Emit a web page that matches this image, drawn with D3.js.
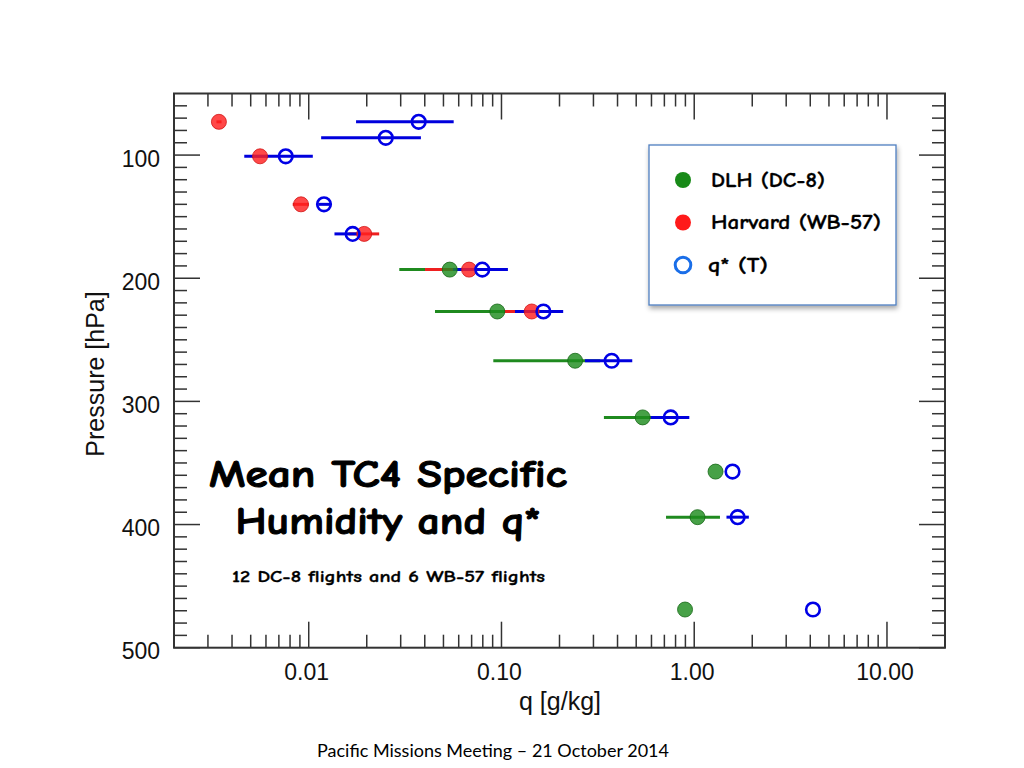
<!DOCTYPE html>
<html><head><meta charset="utf-8">
<script src="https://cdn.jsdelivr.net/npm/d3@7"></script>
<style>
html,body{margin:0;padding:0;background:#fff;}
svg{display:block;}
</style></head>
<body>
<svg id="chart" width="1024" height="768"></svg>
<script>
// ---- data ----
const dlhP  = [193, 227, 267, 313, 357, 394, 469];
const dlhQ  = [0.0539, 0.0951, 0.241, 0.540, 1.29, 1.04, 0.896];
const dlhLo = [0.0295, 0.0452, 0.0907, 0.340, 1.29, 0.714, 0.896];
const dlhHi = [0.0982, 0.158, 0.325, 0.665, 1.29, 1.36, 0.896];

const harvP  = [73, 101, 140, 164, 193, 227];
const harvQ  = [0.00342, 0.00559, 0.00912, 0.0194, 0.0679, 0.1435];
const harvLo = [0.00332, 0.00508, 0.00826, 0.0161, 0.0401, 0.104];
const harvHi = [0.00353, 0.00615, 0.0100, 0.0232, 0.100, 0.197];

const qsP  = [73, 86, 101, 140, 164, 193, 227, 267, 313, 357, 394, 469];
const qsQ  = [0.0372, 0.0251, 0.0076, 0.0120, 0.0169, 0.0795, 0.165, 0.373, 0.755, 1.58, 1.68, 4.13];
const qsLo = [0.0176, 0.0116, 0.00463, 0.0112, 0.0136, 0.0560, 0.1175, 0.271, 0.594, 1.58, 1.47, 4.13];
const qsHi = [0.0565, 0.0382, 0.0105, 0.0129, 0.0185, 0.108, 0.209, 0.477, 0.943, 1.58, 1.92, 4.13];

const xTickValues = [0.01, 0.1, 1, 10];
const xTickLabels = ["0.01", "0.10", "1.00", "10.00"];
const yTickValues = [100, 200, 300, 400, 500];
const yTickLabels = ["100", "200", "300", "400", "500"];

const legendLabels = ["DLH (DC-8)", "Harvard (WB-57)", "q* (T)"];
const titleLines = ["Mean TC4 Specific", "Humidity and q*"];
const subtitle = "12 DC-8 flights and 6 WB-57 flights";
const footer = "Pacific Missions Meeting \u2013 21 October 2014";

// ---- layout ----
const svg = d3.select("#chart");
const L = 174, R = 945, T = 93.5, B = 647.7;
const x = d3.scaleLog().domain([0.002, 20]).range([L, R]);
const y = d3.scaleLinear().domain([50, 500]).range([T, B]);

const axisColor = "#333";
const major = 26, minor = 13;

const xMinor = x.ticks().filter(v => !xTickValues.some(t => Math.abs(t - v) / t < 1e-6) && v > 0.002 && v < 20);
const yMinor = d3.range(60, 500, 10).filter(v => v % 100 !== 0);

const g = svg.append("g");
function vline(xx, y1, y2, w) {
  g.append("line").attr("x1", xx).attr("x2", xx).attr("y1", y1).attr("y2", y2)
    .attr("stroke", axisColor).attr("stroke-width", w);
}
function hline(yy, x1, x2, w) {
  g.append("line").attr("x1", x1).attr("x2", x2).attr("y1", yy).attr("y2", yy)
    .attr("stroke", axisColor).attr("stroke-width", w);
}
xMinor.forEach(v => { vline(x(v), B, B - minor, 1.5); vline(x(v), T, T + minor, 1.5); });
xTickValues.forEach(v => { vline(x(v), B, B - major, 1.5); vline(x(v), T, T + major, 1.5); });
yMinor.forEach(v => { hline(y(v), L, L + minor, 1.5); hline(y(v), R, R - minor, 1.5); });
yTickValues.forEach(v => { hline(y(v), L, L + major, 1.5); hline(y(v), R, R - major, 1.5); });

g.append("rect").attr("x", L).attr("y", T).attr("width", R - L).attr("height", B - T)
  .attr("fill", "none").attr("stroke", axisColor).attr("stroke-width", 2);

// tick labels
const tickFont = "'Liberation Sans', Arial, Helvetica, sans-serif";
xTickValues.forEach((v, i) => {
  svg.append("text").attr("x", x(v) - 2).attr("y", B + 32).attr("text-anchor", "middle")
    .attr("font-family", tickFont).attr("font-size", 23).attr("fill", "#111").text(xTickLabels[i]);
});
yTickValues.forEach((v, i) => {
  svg.append("text").attr("x", 160).attr("y", y(v) + 11.5).attr("text-anchor", "end")
    .attr("font-family", tickFont).attr("font-size", 23).attr("fill", "#111").text(yTickLabels[i]);
});
svg.append("text").attr("x", 560).attr("y", 710).attr("text-anchor", "middle")
  .attr("font-family", tickFont).attr("font-size", 25).attr("fill", "#111").text("q [g/kg]");
svg.append("text").attr("transform", "translate(104,374) rotate(-90)").attr("text-anchor", "middle")
  .attr("font-family", tickFont).attr("font-size", 25).attr("fill", "#111").text("Pressure [hPa]");

// ---- series ----
const series = [
  {P: dlhP, Q: dlhQ, Lo: dlhLo, Hi: dlhHi, bar: "#1f8a1f", fill: "#1e8c1e", stroke: "#176717", filled: true},
  {P: harvP, Q: harvQ, Lo: harvLo, Hi: harvHi, bar: "#ee2020", fill: "#ff2020", stroke: "#d01515", filled: true},
  {P: qsP, Q: qsQ, Lo: qsLo, Hi: qsHi, bar: "#0000dd", fill: "none", stroke: "#0000e6", filled: false}
];
const bars = svg.append("g");
series.forEach(s => {
  s.P.forEach((p, i) => {
    if (s.Hi[i] > s.Lo[i]) {
      bars.append("line").attr("x1", x(s.Lo[i])).attr("x2", x(s.Hi[i]))
        .attr("y1", y(p)).attr("y2", y(p)).attr("stroke", s.bar).attr("stroke-width", 3);
    }
  });
});
const marks = svg.append("g");
series.forEach(s => {
  s.P.forEach((p, i) => {
    if (s.filled) {
      marks.append("circle").attr("cx", x(s.Q[i])).attr("cy", y(p)).attr("r", 7.5)
        .attr("fill", s.fill).attr("fill-opacity", 0.82).attr("stroke", s.stroke).attr("stroke-width", 0.8);
    } else {
      marks.append("circle").attr("cx", x(s.Q[i])).attr("cy", y(p)).attr("r", 6.8)
        .attr("fill", "none").attr("stroke", s.stroke).attr("stroke-width", 2.6);
    }
  });
});

// ---- title texts ----
const comic = "'Comic Sans MS', 'Comic Neue', 'DejaVu Sans', sans-serif";
const titleWidths = [358, 305];
titleLines.forEach((t, i) => {
  svg.append("text").attr("x", 388).attr("y", 487 + i * 47).attr("text-anchor", "middle")
    .attr("font-family", comic).attr("font-weight", "bold").attr("font-size", 38)
    .attr("textLength", titleWidths[i]).attr("lengthAdjust", "spacingAndGlyphs")
    .attr("fill", "#000").attr("stroke", "#000").attr("stroke-width", 1).text(t);
});
svg.append("text").attr("x", 232).attr("y", 582).attr("font-family", comic)
  .attr("font-weight", "bold").attr("font-size", 15.5)
  .attr("textLength", 313).attr("lengthAdjust", "spacingAndGlyphs")
  .attr("fill", "#000").attr("stroke", "#000").attr("stroke-width", 0.3).text(subtitle);

// ---- legend ----
const defs = svg.append("defs");
const f = defs.append("filter").attr("id", "shadow").attr("x", "-10%").attr("y", "-10%").attr("width", "130%").attr("height", "130%");
f.append("feDropShadow").attr("dx", 1).attr("dy", 3).attr("stdDeviation", 2.5).attr("flood-color", "#000").attr("flood-opacity", 0.35);
const lg = svg.append("g");
lg.append("rect").attr("x", 649).attr("y", 145).attr("width", 247).attr("height", 160)
  .attr("fill", "#fff").attr("stroke", "#4f7fc0").attr("stroke-width", 1.3).attr("filter", "url(#shadow)");
const legColors = [["#188a18", "#188a18"], ["#ff1a1a", "#ff1a1a"], ["none", "#1a6ee8"]];
const legWidths = [114, 170, 60];
legendLabels.forEach((lab, i) => {
  const cy = 180 + i * 42.5;
  if (i < 2) lg.append("circle").attr("cx", 683).attr("cy", cy).attr("r", 8).attr("fill", legColors[i][0]);
  else lg.append("circle").attr("cx", 683).attr("cy", cy).attr("r", 7.8).attr("fill", "none")
        .attr("stroke", legColors[i][1]).attr("stroke-width", 3);
  lg.append("text").attr("x", i === 2 ? 708 : 711).attr("y", cy + 6.5).attr("font-family", comic).attr("font-weight", "bold")
    .attr("font-size", 20).attr("textLength", legWidths[i]).attr("lengthAdjust", "spacingAndGlyphs")
    .attr("fill", "#000").attr("stroke", "#000").attr("stroke-width", 0.3).text(lab);
});

// ---- footer ----
svg.append("text").attr("x", 493).attr("y", 757).attr("text-anchor", "middle")
  .attr("font-family", "Lato, 'Open Sans', sans-serif").attr("font-size", 18).attr("fill", "#000").text(footer);
</script>
</body></html>
